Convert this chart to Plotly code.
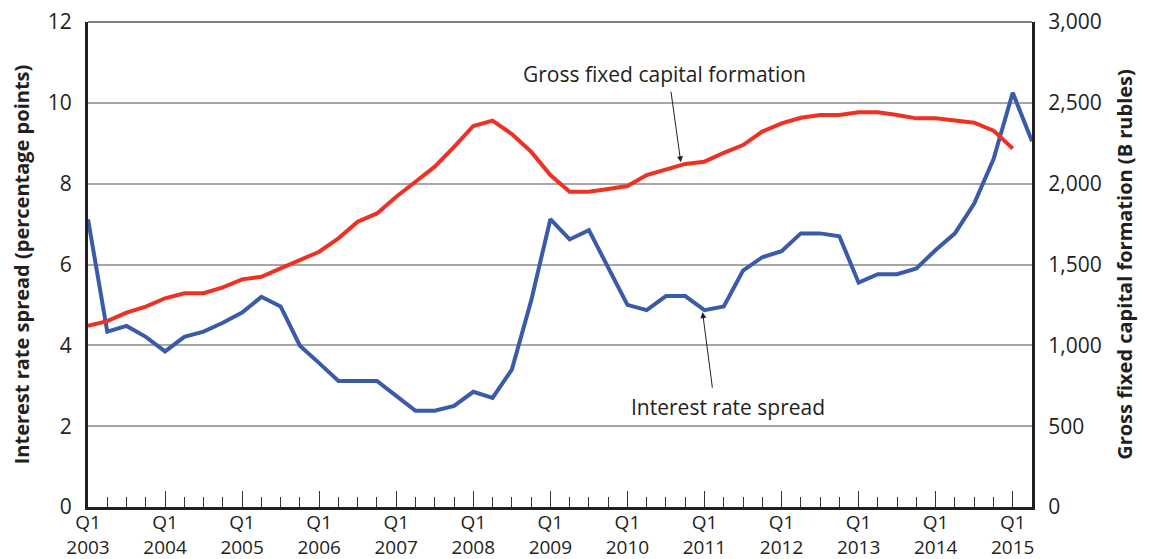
import plotly.graph_objects as go

quarters = list(range(50))  # Q1 2003 .. Q2 2015
tick_pos = list(range(0, 49, 4))
tick_text = [f"Q1<br>{y}" for y in range(2003, 2016)]

spread = [7.12, 4.34, 4.48, 4.21,
          3.85, 4.21, 4.34, 4.56,
          4.81, 5.20, 4.96, 3.99,
          3.56, 3.12, 3.12, 3.12,
          2.75, 2.38, 2.38, 2.50,
          2.85, 2.70, 3.40, 5.10,
          7.12, 6.62, 6.85, 5.95,
          5.00, 4.87, 5.22, 5.22,
          4.87, 4.96, 5.85, 6.18,
          6.33, 6.77, 6.77, 6.70,
          5.55, 5.76, 5.76, 5.90,
          6.36, 6.77, 7.51, 8.60,
          10.25, 9.05]

gfcf = [1120, 1150, 1202, 1239,
        1291, 1322, 1322, 1359,
        1408, 1424, 1476, 1528,
        1579, 1662, 1765, 1816,
        1919, 2012, 2105, 2228,
        2357, 2390, 2307, 2198,
        2053, 1950, 1950, 1967,
        1985, 2053, 2089, 2122,
        2136, 2191, 2239, 2322,
        2373, 2408, 2425, 2425,
        2441, 2441, 2425, 2404,
        2404, 2390, 2377, 2328,
        2218]

FONT = "Open Sans"
TXT = "#231f20"
FS = 21

fig = go.Figure()
fig.add_trace(go.Scatter(x=quarters[:len(spread)], y=spread, mode="lines",
                         line=dict(color="#3a5ba9", width=4), yaxis="y",
                         showlegend=False))
fig.add_trace(go.Scatter(x=quarters[:len(gfcf)], y=gfcf, mode="lines",
                         line=dict(color="#ee3124", width=4), yaxis="y2",
                         showlegend=False))

fig.update_layout(
    width=1143, height=551,
    margin=dict(l=80, r=119, t=14, b=52),
    paper_bgcolor="white", plot_bgcolor="white",
    font=dict(family=FONT, size=FS, color=TXT),
    xaxis=dict(range=[0, 49], tickvals=tick_pos, ticktext=tick_text,
               automargin=False, ticklabeloverflow="allow", ticklabelstandoff=-4,
               ticks="inside", ticklen=16, tickwidth=1.2, tickcolor="#333",
               minor=dict(dtick=1, tick0=0, ticks="inside", ticklen=10,
                          tickwidth=1.2, tickcolor="#333", showgrid=False),
               showgrid=False, zeroline=False, showline=True,
               linecolor="#231f20", linewidth=3,
               tickfont=dict(size=19, color=TXT), tickangle=0),
    yaxis=dict(range=[0, 12], tickvals=[0, 2, 4, 6, 8, 10, 12],
               automargin=False, ticklabeloverflow="allow",
               showgrid=True, gridcolor="#a6a6a6", gridwidth=1.5,
               zeroline=False, showline=True, linecolor="#231f20", linewidth=3,
               ticks="", ticklabelstandoff=9,
               title=dict(text="<b>Interest rate spread (percentage points)</b>",
                          font=dict(size=20, color=TXT), standoff=14)),
    yaxis2=dict(range=[0, 3000], tickvals=[0, 500, 1000, 1500, 2000, 2500, 3000],
                ticktext=["0", "500", "1,000", "1,500", "2,000", "2,500", "3,000"],
                automargin=False, ticklabeloverflow="allow",
                overlaying="y", side="right", showgrid=False, zeroline=False,
                showline=True, linecolor="#231f20", linewidth=3,
                ticks="", ticklabelstandoff=9,
                title=dict(text="<b>Gross fixed capital formation (B rubles)</b>",
                           font=dict(size=20, color=TXT), standoff=18)),
    shapes=[dict(type="line", xref="paper", yref="paper", x0=0, x1=1, y0=1, y1=1,
                 layer="above", line=dict(color="#555555", width=1.5))],
    annotations=[
        dict(x=29.94, y=10.71, xref="x", yref="y", text="Gross fixed capital formation",
             showarrow=False, font=dict(size=FS, color=TXT)),
        dict(x=30.77, y=8.53, xref="x", yref="y", text="", showarrow=True,
             ax=-10, ay=-72, arrowhead=2, arrowsize=1.2, arrowwidth=1, arrowcolor="#231f20"),
        dict(x=33.2, y=2.47, xref="x", yref="y", text="Interest rate spread",
             showarrow=False, font=dict(size=FS, color=TXT)),
        dict(x=31.9, y=4.82, xref="x", yref="y", text="", showarrow=True,
             ax=10, ay=77, arrowhead=2, arrowsize=1.2, arrowwidth=1, arrowcolor="#231f20"),
    ],
)

fig.write_html("out.html")
